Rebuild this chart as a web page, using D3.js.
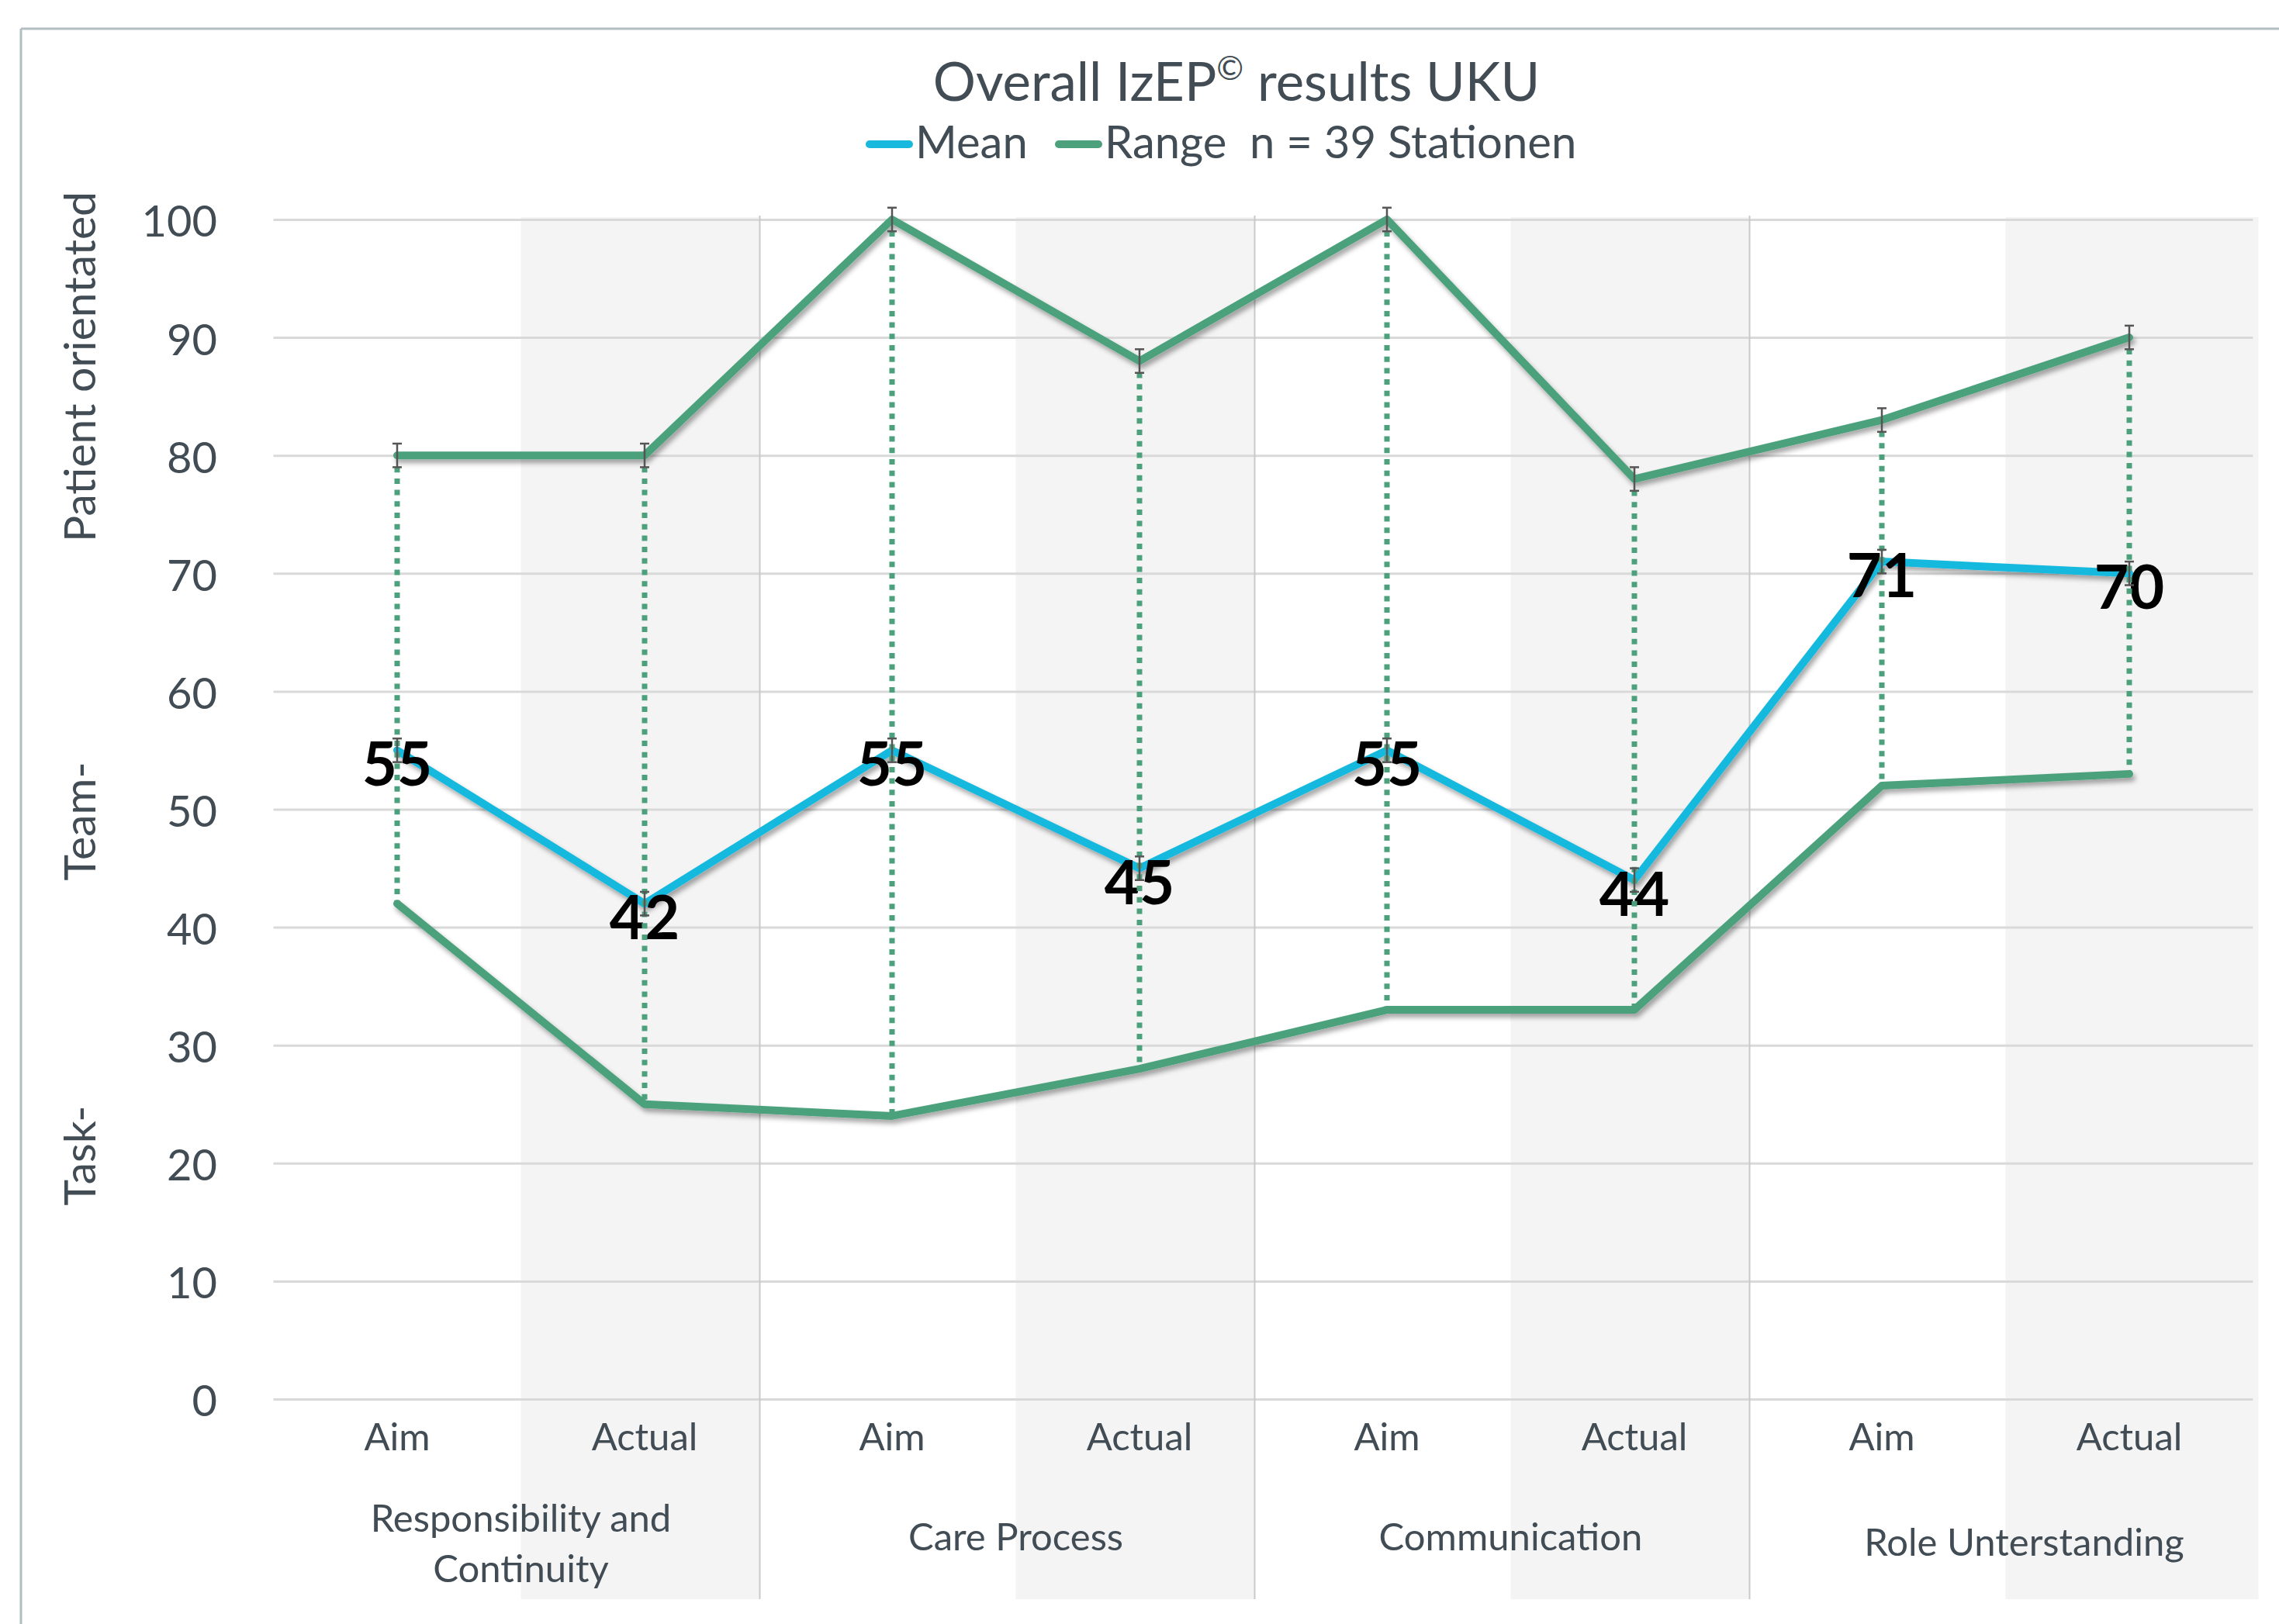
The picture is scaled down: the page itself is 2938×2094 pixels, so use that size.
<!DOCTYPE html>
<html>
<head>
<meta charset="utf-8">
<script src="https://cdn.jsdelivr.net/npm/d3@7"></script>
<style>
  html, body { margin: 0; padding: 0; background: #ffffff; }
  svg { display: block; }
  text { font-family: Lato, "Open Sans", sans-serif; }
</style>
</head>
<body>
<svg id="chart" width="2938" height="2094"></svg>
<script>
// ---------------- DATA ----------------
const categories = ["Aim", "Actual", "Aim", "Actual", "Aim", "Actual", "Aim", "Actual"];
const groups = [["Responsibility and", "Continuity"], ["Care Process"], ["Communication"], ["Role Unterstanding"]];
const meanValues = [55, 42, 55, 45, 55, 44, 71, 70];
const rangeMax = [80, 80, 100, 88, 100, 78, 83, 90];
const rangeMin = [42, 25, 24, 28, 33, 33, 52, 53];
const errorBar = 1;
const yTicks = [0, 10, 20, 30, 40, 50, 60, 70, 80, 90, 100];
const titleParts = ["Overall IzEP", "©", " results UKU"];
const legendLabels = ["Mean", "Range  n = 39 Stationen"];
const yTitles = ["Patient orientated", "Team-", "Task-"];

// ---------------- LAYOUT ----------------
const W = 2938, H = 2094;
const plotLeft = 352.5, plotRight = 2904.5, plotTop = 283, plotBottom = 1804;
const textColor = "#414c54";
const blue = "#19b9de", green = "#4ca17c";
const dividerShift = -11;

const svg = d3.select("#chart");
const defs = svg.append("defs");
const f = defs.append("filter").attr("id", "shadow")
  .attr("x", "-5%").attr("y", "-5%").attr("width", "110%").attr("height", "120%");
f.append("feDropShadow").attr("dx", 3).attr("dy", 5).attr("stdDeviation", 3)
  .attr("flood-color", "#000").attr("flood-opacity", 0.35);

const idx = d3.range(categories.length);
const x = d3.scaleBand().domain(idx).range([plotLeft, plotRight]).paddingInner(0).paddingOuter(0);
const cx = i => x(i) + x.bandwidth() / 2;
const y = d3.scaleLinear().domain([0, 100]).range([plotBottom, plotTop]);

// frame
svg.append("line").attr("x1", 27).attr("x2", W).attr("y1", 37).attr("y2", 37)
  .attr("stroke", "#b3bec2").attr("stroke-width", 3);
svg.append("line").attr("x1", 27).attr("x2", 27).attr("y1", 37).attr("y2", H)
  .attr("stroke", "#b3bec2").attr("stroke-width", 3);

// shaded bands for "Actual" categories
const bandTop = plotTop - 3, bandBottom = 2062;
svg.append("g").selectAll("rect")
  .data(idx.filter(i => i % 2 === 1))
  .join("rect")
  .attr("x", i => x(i))
  .attr("width", i => x.bandwidth() + (i === idx.length - 1 ? 7 : dividerShift))
  .attr("y", bandTop).attr("height", bandBottom - bandTop)
  .attr("fill", "#f4f4f4");

// gridlines via axis
const yAxisGrid = d3.axisLeft(y).tickValues(yTicks).tickSize(-(plotRight - plotLeft)).tickFormat("");
const gGrid = svg.append("g").attr("transform", `translate(${plotLeft},0)`).call(yAxisGrid);
gGrid.select(".domain").remove();
gGrid.selectAll(".tick line").attr("stroke", "#d9d9d9").attr("stroke-width", 3);

// group dividers
svg.append("g").selectAll("line")
  .data([2, 4, 6])
  .join("line")
  .attr("x1", i => x(i) + dividerShift).attr("x2", i => x(i) + dividerShift)
  .attr("y1", bandTop - 2).attr("y2", bandBottom)
  .attr("stroke", "#c9c9c9").attr("stroke-width", 2);

// y tick labels via axis
const yAxis = d3.axisLeft(y).tickValues(yTicks).tickSize(0).tickPadding(0);
const gY = svg.append("g").attr("transform", "translate(280,4)").call(yAxis);
gY.select(".domain").remove();
gY.selectAll(".tick text")
  .attr("fill", textColor).attr("font-size", 56)
  .attr("font-family", "Lato, 'Open Sans', sans-serif");

// x category labels via axis
const xAxis = d3.axisBottom(x).tickSize(0).tickPadding(0).tickFormat(i => categories[i]);
const gX = svg.append("g").attr("transform", "translate(0,1835)").call(xAxis);
gX.select(".domain").remove();
gX.selectAll(".tick text")
  .attr("fill", textColor).attr("font-size", 49)
  .attr("font-family", "Lato, 'Open Sans', sans-serif")
  .attr("dy", "0.71em");

// group labels
groups.forEach((lines, g) => {
  const gx = x(g * 2) + x.bandwidth() + (g === 3 ? 24 : 0);
  const baseY = lines.length > 1 ? 1975 : (g === 3 ? 2006 : 1999);
  lines.forEach((t, k) => {
    svg.append("text").attr("x", gx).attr("y", baseY + k * 65)
      .attr("text-anchor", "middle").attr("fill", textColor).attr("font-size", 49)
      .text(t);
  });
});

// y-axis titles
const yTitlePos = [[123, 473], [123, 1059], [123, 1490]];
yTitles.forEach((t, k) => {
  svg.append("text")
    .attr("transform", `translate(${yTitlePos[k][0]},${yTitlePos[k][1]}) rotate(-90)`)
    .attr("text-anchor", "middle").attr("fill", textColor).attr("font-size", 57)
    .text(t);
});

// title
const title = svg.append("text").attr("x", 1594).attr("y", 130)
  .attr("text-anchor", "middle").attr("fill", textColor).attr("font-size", 69);
title.append("tspan").text(titleParts[0]);
title.append("tspan").attr("font-size", 42).attr("dy", -27).text(titleParts[1]);
title.append("tspan").attr("dy", 27).text(titleParts[2]);

// legend
const legendItems = [
  { label: legendLabels[0], color: blue, x0: 1116 },
  { label: legendLabels[1], color: green, x0: 1360 }
];
legendItems.forEach(it => {
  svg.append("line").attr("x1", it.x0 + 5).attr("x2", it.x0 + 56).attr("y1", 186).attr("y2", 186)
    .attr("stroke", it.color).attr("stroke-width", 10).attr("stroke-linecap", "round");
  svg.append("text").attr("x", it.x0 + 64).attr("y", 204)
    .attr("fill", textColor).attr("font-size", 58).style("white-space", "pre")
    .text(it.label);
});

// range lines (max & min)
const line = d3.line().x((d, i) => cx(i)).y(d => y(d));
[rangeMax, rangeMin].forEach(series => {
  svg.append("path").datum(series).attr("d", line)
    .attr("fill", "none").attr("stroke", green).attr("stroke-width", 10)
    .attr("stroke-linejoin", "round").attr("stroke-linecap", "round")
    .attr("filter", "url(#shadow)");
});

// mean line
svg.append("path").datum(meanValues).attr("d", line)
  .attr("fill", "none").attr("stroke", blue).attr("stroke-width", 10)
  .attr("stroke-linejoin", "round").attr("stroke-linecap", "round")
  .attr("filter", "url(#shadow)");

// data labels
svg.append("g").selectAll("text")
  .data(meanValues)
  .join("text")
  .attr("x", (d, i) => cx(i))
  .attr("y", d => y(d) + 46)
  .attr("text-anchor", "middle")
  .attr("font-size", 78).attr("font-weight", 700)
  .attr("fill", "#000")
  .text(d => d);

// high-low dotted lines
svg.append("g").selectAll("line")
  .data(idx)
  .join("line")
  .attr("x1", i => cx(i)).attr("x2", i => cx(i))
  .attr("y1", i => y(rangeMax[i]) + 15).attr("y2", i => y(rangeMin[i]))
  .attr("stroke", green).attr("stroke-width", 7).attr("stroke-dasharray", "7 7.7");

// error bars on max and mean
const errData = [];
idx.forEach(i => { errData.push([i, rangeMax[i]]); errData.push([i, meanValues[i]]); });
const gE = svg.append("g").attr("stroke", "#555").attr("stroke-width", 2.5);
errData.forEach(([i, v]) => {
  const xx = cx(i), y1 = y(v + errorBar), y2 = y(v - errorBar);
  gE.append("line").attr("x1", xx).attr("x2", xx).attr("y1", y1).attr("y2", y2);
  gE.append("line").attr("x1", xx - 6).attr("x2", xx + 6).attr("y1", y1).attr("y2", y1);
  gE.append("line").attr("x1", xx - 6).attr("x2", xx + 6).attr("y1", y2).attr("y2", y2);
});
</script>
</body>
</html>
